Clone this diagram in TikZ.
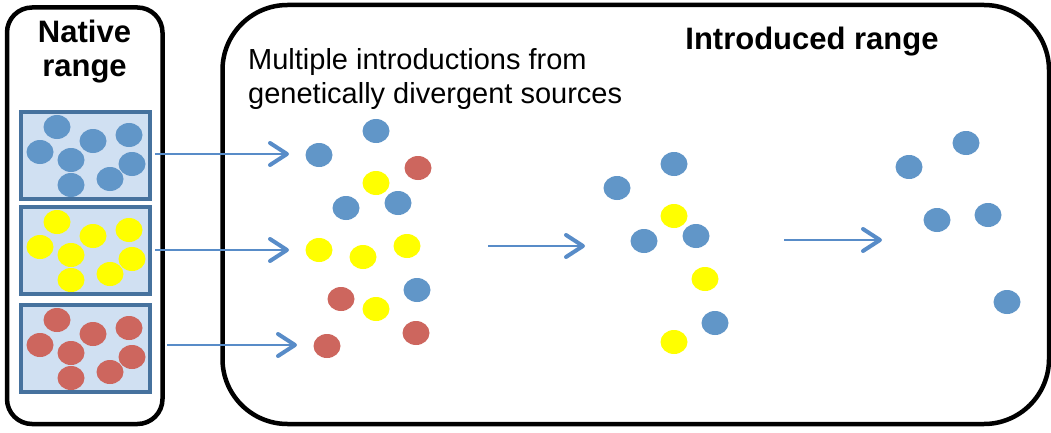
\documentclass[tikz,border=0pt]{standalone}
\usepackage{fontspec}
\setmainfont{Liberation Sans}
\usetikzlibrary{arrows.meta,shapes.geometric}
\definecolor{dotblue}{RGB}{97,150,200}
\definecolor{dotred}{RGB}{205,102,94}
\definecolor{dotyellow}{RGB}{255,255,0}
\definecolor{boxfill}{RGB}{208,224,242}
\definecolor{boxedge}{RGB}{70,114,158}
\definecolor{arrowblue}{RGB}{88,140,200}
\tikzset{
  dotbase/.style={ellipse, minimum width=27pt, minimum height=24pt, inner sep=0pt, draw=none},
  bdot/.style={dotbase, fill=dotblue},
  rdot/.style={dotbase, fill=dotred},
  ydot/.style={dotbase, fill=dotyellow},
  rangebox/.style={draw=black, line width=4.5pt, fill=white, inner sep=0pt},
  popbox/.style={draw=boxedge, line width=4pt, fill=boxfill, minimum width=129pt, minimum height=87pt, inner sep=0pt},
  flow/.style={draw=arrowblue, line width=1.8pt, -{Straight Barb[length=17pt,width=22pt,line width=4pt,round]}},
  boldlbl/.style={font=\fontsize{31}{34}\selectfont\bfseries, inner sep=0pt},
  plainlbl/.style={font=\fontsize{29}{34.5}\selectfont, inner sep=0pt}
}
\begin{document}
\begin{tikzpicture}[x=1pt,y=-1pt]
\useasboundingbox (0,0) rectangle (1051,433);
% range boxes
\node[rangebox, rounded corners=25pt, minimum width=155.5pt, minimum height=416.5pt] (native) at (84.75,215.75) {};
\node[rangebox, rounded corners=65pt, minimum width=826.5pt, minimum height=419pt] (intro) at (635.75,214.5) {};
% labels
\node[boldlbl, align=center, anchor=base] (natlbl1) at (84.5,43) {Native};
\node[boldlbl, align=center, anchor=base] (natlbl2) at (84.5,77) {range};
\node[boldlbl, anchor=base] (introlbl) at (812,50) {Introduced range};
\node[plainlbl, anchor=base west] (multi1) at (248,70) {Multiple introductions from};
\node[plainlbl, anchor=base west] (multi2) at (248,104) {genetically divergent sources};
% population boxes
\node[popbox] (pb) at (85.5,155.5) {};
\node[popbox] (py) at (85.5,250.5) {};
\node[popbox] (pr) at (85.5,348.5) {};
% native dots
\foreach \x/\y [count=\i] in {57/127,40/152,93/141,129/135,71/160,132/164,110/179,71/185}{
  \node[bdot] (nb\i) at (\x,\y) {};
  \node[ydot] (ny\i) at (\x,\y+95) {};
  \node[rdot] (nr\i) at (\x,\y+193) {};
}
% first introduced cluster
\node[bdot] (a1) at (376,131) {};
\node[bdot] (a2) at (319,155) {};
\node[rdot] (a3) at (418,168) {};
\node[ydot] (a4) at (376,183) {};
\node[bdot] (a5) at (346,208) {};
\node[bdot] (a6) at (398,203) {};
\node[ydot] (a7) at (319,250) {};
\node[ydot] (a8) at (363,257) {};
\node[ydot] (a9) at (407,246) {};
\node[rdot] (a10) at (341,299) {};
\node[ydot] (a11) at (376,309) {};
\node[bdot] (a12) at (417,290) {};
\node[rdot] (a13) at (416,333) {};
\node[rdot] (a14) at (327,346) {};
% second cluster
\node[bdot] (b1) at (617,188) {};
\node[bdot] (b2) at (674,164) {};
\node[ydot] (b3) at (674,216) {};
\node[bdot] (b4) at (644,241) {};
\node[bdot] (b5) at (696,236) {};
\node[ydot] (b6) at (705,279) {};
\node[bdot] (b7) at (715,323) {};
\node[ydot] (b8) at (674,342) {};
% third cluster
\node[bdot] (c1) at (909,167) {};
\node[bdot] (c2) at (966,143) {};
\node[bdot] (c3) at (937,220) {};
\node[bdot] (c4) at (988,215) {};
\node[bdot] (c5) at (1007,302) {};
% arrows
\coordinate (t1) at (289,154);
\coordinate (t2) at (289,250);
\coordinate (s3) at (167,345);
\coordinate (t3) at (297,345);
\coordinate (s4) at (488,246);
\coordinate (t4) at (585,246);
\coordinate (s5) at (784,240);
\coordinate (t5) at (882,240);
\draw[flow] (pb.east |- t1) ++(3,0) -- (t1);
\draw[flow] (py.east |- t2) ++(3,0) -- (t2);
\draw[flow] (s3) -- (t3);
\draw[flow] (s4) -- (t4);
\draw[flow] (s5) -- (t5);
\end{tikzpicture}
\end{document}
